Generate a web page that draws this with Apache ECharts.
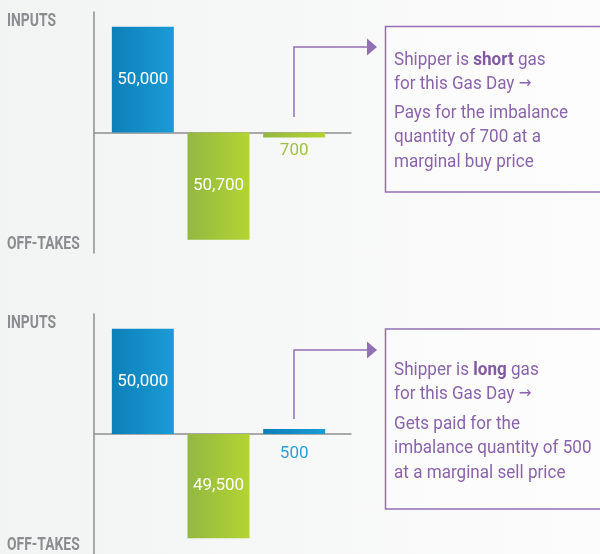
<!DOCTYPE html>
<html lang="en">
<head>
    <meta charset="UTF-8">
    <title>Gas Day imbalance</title>
    <script src="https://cdn.jsdelivr.net/npm/echarts@6/dist/echarts.min.js"></script>
    <style>
        html, body { margin: 0; padding: 0; }
        #chart {
            width: 600px; height: 554px;
            background: linear-gradient(to right, #f2f3f3, #fcfcfc);
        }
    </style>
</head>
<body>
<div id="chart"></div>
<script>
    // data
    const categories = ['Inputs', 'Off-takes', 'Imbalance'];
    const shortValues = [50000, -50700, -700];
    const longValues = [50000, -49500, 500];
    const axisNames = ['INPUTS', 'OFF-TAKES'];
    const shortNote = ['Shipper is ', 'short', ' gas', 'for this Gas Day ',
        'Pays for the imbalance', 'quantity of 700 at a', 'marginal buy price'];
    const longNote = ['Shipper is ', 'long', ' gas', 'for this Gas Day ',
        'Gets paid for the', 'imbalance quantity of 500', 'at a marginal sell price'];

    const FONT = 'Roboto, "Noto Sans", sans-serif';
    const PURPLE = '#9170b3';
    const LIMIT = 57000;

    // the original uses a condensed face; squeeze Roboto to the same widths
    function measure(font, text) {
        const ctx = document.createElement('canvas').getContext('2d');
        ctx.font = font;
        return ctx.measureText(text).width;
    }
    const noteScale = 174 / measure('18px ' + FONT, 'Pays for the imbalance');
    const titleScale = 49 / measure('bold 18px ' + FONT, 'INPUTS');

    let chart = echarts.init(document.getElementById('chart'));

    function grad(a, b) {
        return new echarts.graphic.LinearGradient(0, 0, 1, 0, [
            {offset: 0, color: a}, {offset: 1, color: b}
        ]);
    }

    function barData(values) {
        return values.map(function (v, i) {
            const pos = v > 0;
            const small = i === values.length - 1;
            return {
                value: v,
                itemStyle: {
                    color: pos ? grad('#0c80b9', '#1b9bd6') : grad('#92b842', '#b4d432')
                },
                label: small ? {
                    position: 'bottom',
                    distance: pos ? 11 : 5,
                    color: pos ? '#2aa0da' : '#9dc241'
                } : {}
            };
        });
    }

    function fmt(p) {
        return Math.abs(p.value).toLocaleString('en-US');
    }

    const tops = [12, 314];
    let grids = [], xAxes = [], yAxes = [], series = [];
    [shortValues, longValues].forEach(function (vals, k) {
        // axis lines grid
        grids.push({left: 94, top: tops[k], width: 257, height: 241});
        // bars grid
        grids.push({left: 105, top: tops[k], width: 227, height: 241});
        const ga = 2 * k, gb = 2 * k + 1;
        xAxes.push({
            gridIndex: ga, type: 'category', data: categories,
            axisLine: {onZero: true, lineStyle: {color: '#8e8e92', width: 1.5}},
            axisTick: {show: false}, axisLabel: {show: false}
        });
        yAxes.push({
            gridIndex: ga, type: 'value', min: -LIMIT, max: LIMIT,
            axisLine: {show: true, lineStyle: {color: '#8e8e92', width: 1.5}},
            axisTick: {show: false}, axisLabel: {show: false}, splitLine: {show: false}
        });
        xAxes.push({
            gridIndex: gb, type: 'category', data: categories, show: false
        });
        yAxes.push({
            gridIndex: gb, type: 'value', min: -LIMIT, max: LIMIT, show: false,
            splitLine: {show: false}
        });
        series.push({
            type: 'bar',
            xAxisIndex: gb, yAxisIndex: gb,
            barWidth: 62,
            barMinHeight: 5,
            data: barData(vals),
            label: {
                show: true, position: 'inside', color: '#ffffff',
                fontFamily: FONT, fontSize: 17, formatter: fmt
            },
            silent: true
        });
    });

    function axisTitles(y1, y2) {
        return axisNames.map(function (name, i) {
            return {type: 'text', x: 7, y: i ? y2 : y1, scaleX: titleScale,
                style: {text: name, fill: '#8c8d90', font: 'bold 18px ' + FONT,
                    verticalAlign: 'middle'}};
        });
    }

    function connector(yLow, yHigh) {
        return [
            {type: 'polyline', shape: {points: [[294, yLow], [294, yHigh], [368, yHigh]]},
                style: {stroke: PURPLE, lineWidth: 1.5, fill: null}},
            {type: 'polygon', shape: {points: [[367, yHigh - 8.5], [377, yHigh], [367, yHigh + 8.5]]},
                style: {fill: PURPLE}}
        ];
    }

    function noteBox(top, bottom, t1, t2, note) {
        const rich = {
            n: {fontFamily: FONT, fontSize: 18, fill: '#8a63aa', lineHeight: 24},
            b: {fontFamily: FONT, fontSize: 18, fontWeight: 'bold', fill: '#8259a3', lineHeight: 24},
            a: {fontFamily: '"DejaVu Sans"', fontSize: 16, fill: '#8a63aa', lineHeight: 24}
        };
        const rich2 = {
            n: {fontFamily: FONT, fontSize: 18, fill: '#8a63aa', lineHeight: 24.5}
        };
        return [
            {type: 'rect', shape: {x: 385.5, y: top, width: 300, height: bottom - top},
                style: {stroke: PURPLE, lineWidth: 1.5, fill: 'rgba(255,255,255,0.35)'}},
            {type: 'text', x: 394, y: t1, scaleX: noteScale, style: {
                text: '{n|' + note[0] + '}{b|' + note[1] + '}{n|' + note[2] + '}\n{n|' +
                    note[3] + '}{a|\u2192}',
                rich: rich}},
            {type: 'text', x: 394, y: t2, scaleX: noteScale, style: {
                text: '{n|' + note[4] + '}\n{n|' + note[5] + '}\n{n|' + note[6] + '}',
                rich: rich2}}
        ];
    }

    let graphics = [].concat(
        axisTitles(21.5, 244.5), connector(117, 47), noteBox(26.5, 192, 48, 101, shortNote),
        axisTitles(323, 545.5), connector(419, 350), noteBox(329, 509, 358, 412, longNote)
    );

    chart.setOption({
        backgroundColor: 'transparent',
        animation: false,
        grid: grids,
        xAxis: xAxes,
        yAxis: yAxes,
        series: series,
        graphic: graphics
    });
</script>
</body>
</html>
